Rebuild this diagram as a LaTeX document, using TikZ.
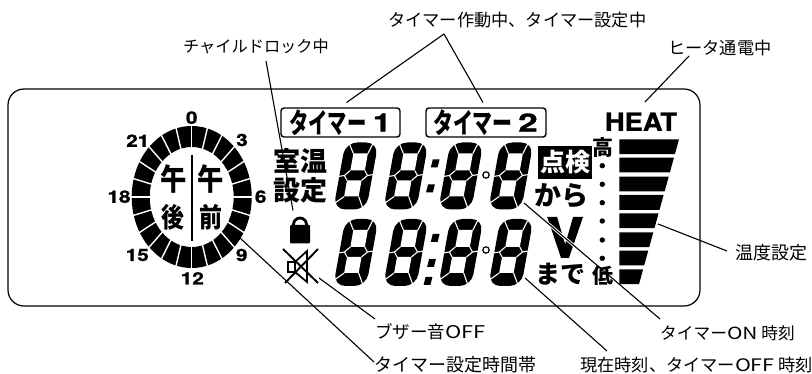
\documentclass[tikz,border=0pt]{standalone}
\usepackage{graphicx}
\usepackage{fontspec}
\usetikzlibrary{calc}
\setmainfont{Noto Sans CJK JP}
\newfontfamily\latb{TeX Gyre Heros}[BoldFont={TeX Gyre Heros Bold},BoldFeatures={FakeBold=1.2}]
\newfontfamily\latv{TeX Gyre Heros Bold}[FakeBold=3]
\newcommand{\fs}[1]{\fontsize{#1}{#1}\selectfont}
\newcommand{\wid}[1]{\scalebox{1.25}[1]{#1}}
\tikzset{
  lab/.style={anchor=west,inner sep=0pt,font=\fs{16.2}},
  lead/.style={line width=1.1pt,black},
  lcd/.style={anchor=center,inner sep=0pt,font=\fs{27}\bfseries},
  nums/.style={anchor=center,inner sep=0pt,font=\latb\bfseries\fs{17}},
  timerbox/.style={draw=black,line width=1.4pt,rounded corners=3pt,fill=white},
  sep/.style={white,line width=1.1pt},
}
\newcommand{\lcddigit}[2]{%
  \begin{scope}[shift={(#1,#2)},xslant=0.18]
    \fill[black,rounded corners=12pt] (0,-67) rectangle (33,0);
    \fill[white] (10,-56) rectangle (24.5,-39);
    \fill[white] (8.5,-29) rectangle (23,-13);
    \draw[sep] (10,-56) -- (3.5,-67);
    \draw[sep] (24.5,-56) -- (28.5,-68);
    \draw[sep] (8.5,-13) -- (0,-6);
    \draw[sep] (23,-13) -- (30,0);
    \draw[sep] (10,-39) -- (5,-34) -- (8.5,-29);
    \draw[sep] (24.5,-39) -- (28,-34) -- (23,-29);
    \draw[sep] (5,-34) -- (-1,-33);
    \draw[sep] (28,-34) -- (34,-35);
  \end{scope}}
\begin{document}
\begin{tikzpicture}[x=1pt,y=-1pt]
\useasboundingbox (0,0) rectangle (812,374);
% frame
\draw[line width=1.2pt,rounded corners=16pt] (8,89) rectangle (700,306) ;
% clock
\fill[black,even odd rule] (191.7,197) ellipse [x radius=60,y radius=71] (191.7,197) ellipse [x radius=42,y radius=50];
\foreach \t in {0,15,...,345}{
  \draw[sep,line width=1.4pt] ({191.7+41*sin(\t)},{197-49*cos(\t)}) -- ({191.7+62*sin(\t)},{197-73*cos(\t)});
}
\draw[line width=2pt] (191.7,155) -- (191.7,241);
\node[lcd,font=\fs{30}\bfseries] (gozenA) at (211,179) {\scalebox{.88}[1]{午}};
\node[lcd] (gozenB) at (211,217) {\scalebox{.85}[1]{前}};
\node[lcd,font=\fs{30}\bfseries] (gogoA) at (173.3,179) {\scalebox{.88}[1]{午}};
\node[lcd] (gogoB) at (173.3,217) {\scalebox{.85}[1]{後}};
\foreach \n/\x/\y/\s in {n0/191.7/117.7/0,n3/242/140/3,n6/260.7/196.7/6,n9/241.7/255/9,n12/192.3/278.3/12,n15/137.3/255/15,n18/119/196.7/18,n21/137.7/140.7/21}{
  \node[nums] (\n) at (\x,\y) {\scalebox{1.22}[1]{\s}};
}
% timer boxes
\node[timerbox,minimum width=119pt,minimum height=29pt,inner sep=0pt] (t1) at (340.5,122.5) {};
\node[timerbox,minimum width=120pt,minimum height=29pt,inner sep=0pt] (t2) at (486,122.5) {};
\node[anchor=west,inner sep=0pt,font=\fs{28}\bfseries] (t1a) at (289,122.5) {\scalebox{.69}[1]{タイマー}};
\node[anchor=center,inner sep=0pt,font=\latb\bfseries\fs{25}] (t1b) at (382,122.5) {\scalebox{1.3}[1]{1}};
\node[anchor=west,inner sep=0pt,font=\fs{28}\bfseries] (t2a) at (433,122.5) {\scalebox{.71}[1]{タイマー}};
\node[anchor=center,inner sep=0pt,font=\latb\bfseries\fs{25}] (t2b) at (528,122.5) {\scalebox{1.4}[1]{2}};
% room temperature
\node[lcd] (shitsu) at (300.5,160.5) {室温};
\node[lcd] (settei) at (300.5,190.5) {設定};
% lock
\fill[black,rounded corners=1pt] (290,225) rectangle (310,243.3);
\draw[line width=2.8pt] (293.5,226) -- (293.5,224.5) arc[start angle=180,end angle=360,radius=6.5] -- (306.5,226);
% speaker
\draw[line width=1.7pt] (288,262) rectangle (295,272);
\draw[line width=1.7pt] (295,262) -- (307,251) -- (307,282) -- (295,272);
\draw[line width=1.9pt] (283,249) -- (318,283);
\draw[line width=1.9pt] (318,249) -- (285,283);
% digits
\foreach \x in {333.3,383.3,438.3,488.3}{
  \lcddigit{\x}{209.5}
  \lcddigit{\x}{286}
}
% colons
\foreach \x/\y in {435.2/163.3,430.5/188.3,435.2/238,431.5/263,428/281}{
  \fill[black] ({\x-4.4},{\y+4}) -- ({\x+2.4},{\y+4}) -- ({\x+4.4},{\y-4}) -- ({\x-2.4},{\y-4}) -- cycle;
}
\draw[line width=1.2pt] (486,175) circle (3.2);
\draw[line width=1.2pt] (486,250) circle (3.2);
% inspect
\node[fill=black,text=white,inner sep=0pt,minimum width=54pt,minimum height=33pt,font=\fs{25}\bfseries] (tenken) at (565,162.5) {点検};
\node[lcd,font=\fs{27}\bfseries] (kara) at (561.5,196) {から};
\node[anchor=base,inner sep=0pt,font=\latv\fs{54}] (volt) at (565,257) {V};
\node[lcd,font=\fs{25}\bfseries] (made) at (560,274) {まで};
% heat
\node[anchor=center,inner sep=0pt,font=\latb\bfseries\fs{25}] (heat) at (641,121.7) {\scalebox{1.09}[1]{HEAT}};
\node[lcd,font=\fs{21}\bfseries] (high) at (603,147.5) {高};
\node[lcd,font=\fs{21}\bfseries] (low) at (603,276) {低};
\foreach \y in {165.7,184.3,202.7,221,240,258.3}{
  \fill[black] (602.3,\y) circle (2.7);
}
\foreach \y in {139.3,157.7,176.7,195,213.3,232.3,250.7,269.3}{
  \fill[black] (619.3,\y) -- ({679-0.276*(\y-139.3)},\y) -- ({679-0.276*(\y+14.8-139.3)},\y+14.8) -- (619.3,\y+14.8) -- cycle;
}
% labels
\node[lab] (lkid) at (183,46) {チャイルドロック中};
\node[lab,font=\fs{17.2}] (ltimer) at (388,20.5) {タイマー作動中、タイマー設定中};
\node[lab,font=\fs{17.2}] (lheater) at (668,48) {ヒータ通電中};
\node[lab,font=\fs{18}] (ltemp) at (735,253) {温度設定};
\node[lab,font=\fs{16.7}] (lon) at (660,333) {タイマー\wid{ON} 時刻};
\node[lab,font=\fs{17.2}] (loff) at (580,365) {現在時刻、タイマー\wid{OFF} 時刻};
\node[lab,font=\fs{17.5}] (lbuzz) at (375,332) {ブザー音\wid{OFF}};
\node[lab,font=\fs{18}] (lband) at (374,365) {タイマー設定時間帯};
% leaders
\coordinate (apex) at (444,34);
\coordinate (e1) at (346.5,102.5);
\coordinate (e2) at (483,102.5);
\draw[lead] (apex) -- (e1);
\draw[lead] (apex) -- (e2);
\coordinate (k1) at (266,61);
\coordinate (k2) at (293,210.5);
\draw[lead] (k1) -- (k2);
\coordinate (h1) at (689,56);
\coordinate (h2) at (645,102);
\draw[lead] (h1) -- (h2);
\coordinate (g1) at (658,224);
\coordinate (g2) at (727,251);
\draw[lead] (g1) -- (g2);
\coordinate (o1) at (524,203);
\coordinate (o2) at (660,319);
\draw[white,line width=3pt] ($(o1)!0.17!(o2)$) -- ($(o1)!0.44!(o2)$);
\draw[lead] (o1) -- (o2);
\coordinate (c1) at (525,278);
\coordinate (c2) at (607,351);
\draw[lead] (c1) -- (c2);
\coordinate (b1) at (319,278);
\coordinate (b2) at (375,319);
\draw[lead] (b1) -- (b2);
\coordinate (s1) at (240,238);
\coordinate (s2) at (374,362);
\draw[lead] (s1) -- (s2);
\end{tikzpicture}
\end{document}
